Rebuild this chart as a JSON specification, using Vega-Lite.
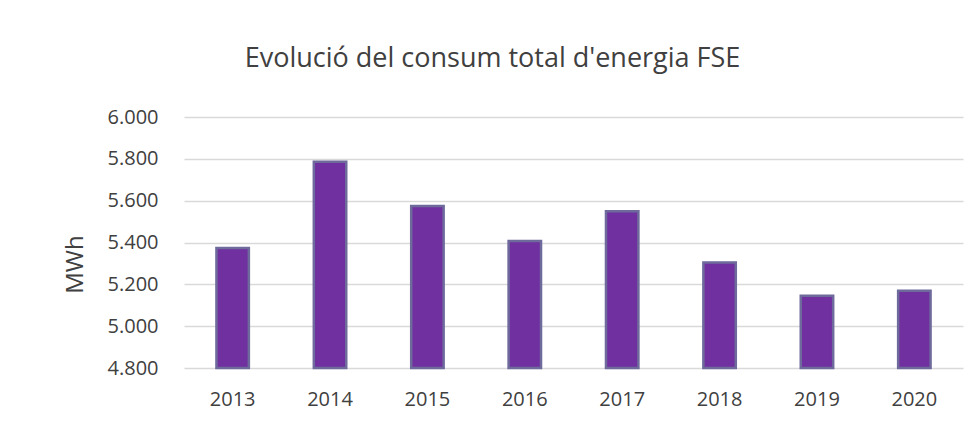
{
  "$schema": "https://vega.github.io/schema/vega-lite/v6.json",
  "width": 779,
  "height": 251,
  "autosize": {"type": "none"},
  "padding": {"left": 184, "top": 117, "right": 15, "bottom": 57},
  "background": "white",
  "config": {
    "view": {"stroke": null},
    "locale": {"number": {"decimal": ",", "thousands": ".", "grouping": [3], "currency": ["", " €"]}},
    "font": "Open Sans"
  },
  "title": {
    "text": "Evolució del consum total d'energia FSE",
    "font": "Open Sans",
    "fontSize": 27,
    "fontWeight": "normal",
    "color": "#404040",
    "anchor": "middle",
    "dx": -81,
    "offset": 34
  },
  "data": {
    "values": [
      {"year": "2013", "mwh": 5374},
      {"year": "2014", "mwh": 5786},
      {"year": "2015", "mwh": 5574},
      {"year": "2016", "mwh": 5407},
      {"year": "2017", "mwh": 5550},
      {"year": "2018", "mwh": 5304},
      {"year": "2019", "mwh": 5145},
      {"year": "2020", "mwh": 5169}
    ]
  },
  "mark": {"type": "bar", "fill": "#7030A0", "stroke": "#6E6A9C", "strokeWidth": 2.5},
  "encoding": {
    "x": {
      "field": "year",
      "type": "ordinal",
      "scale": {"paddingInner": 0.667, "paddingOuter": 0.333},
      "axis": {
        "title": null,
        "labelAngle": 0,
        "labelFontSize": 20,
        "labelColor": "#404040",
        "labelPadding": 21,
        "ticks": false,
        "domain": false
      }
    },
    "y": {
      "field": "mwh",
      "type": "quantitative",
      "scale": {"domain": [4800, 6000], "zero": false, "nice": false},
      "axis": {
        "title": "MWh",
        "titleFontSize": 24,
        "titleFontWeight": "normal",
        "titleColor": "#404040",
        "titlePadding": 20,
        "titleY": 147,
        "values": [4800, 5000, 5200, 5400, 5600, 5800, 6000],
        "format": ",d",
        "labelFontSize": 20,
        "labelColor": "#404040",
        "labelPadding": 26,
        "ticks": false,
        "domain": false,
        "gridColor": "#D9D9D9",
        "gridWidth": 1.3
      }
    },
    "y2": {"datum": 4800}
  }
}
